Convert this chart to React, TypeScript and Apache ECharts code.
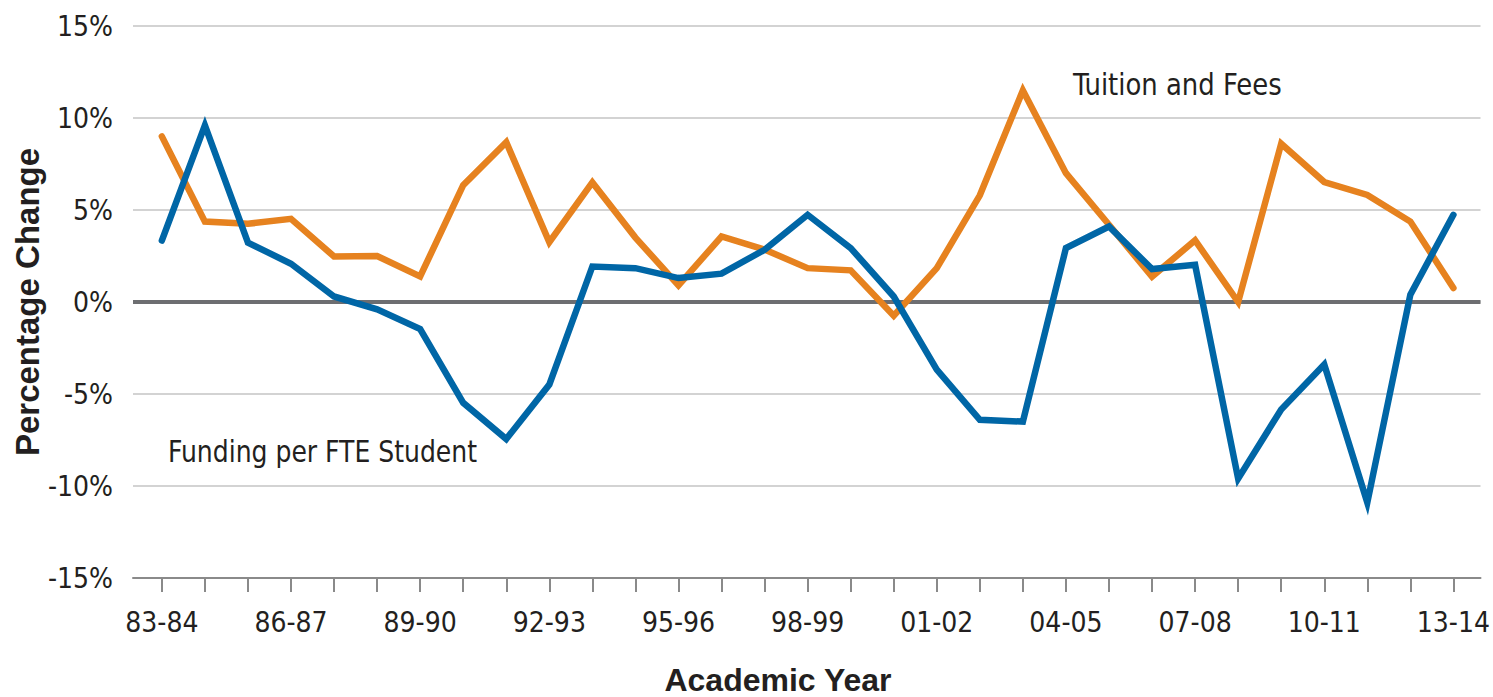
import React, { useEffect, useRef } from "react";
import * as echarts from "echarts";

const categories = [
  "83-84", "84-85", "85-86", "86-87", "87-88", "88-89", "89-90", "90-91", "91-92", "92-93",
  "93-94", "94-95", "95-96", "96-97", "97-98", "98-99", "99-00", "00-01", "01-02", "02-03",
  "03-04", "04-05", "05-06", "06-07", "07-08", "08-09", "09-10", "10-11", "11-12", "12-13", "13-14",
];

const tuitionAndFees = [
  9.0, 4.37, 4.25, 4.52, 2.47, 2.5, 1.39, 6.35, 8.68, 3.25,
  6.5, 3.5, 0.9, 3.56, 2.85, 1.84, 1.72, -0.75, 1.84, 5.8,
  11.5, 7.0, 4.2, 1.38, 3.35, 0.0, 8.6, 6.52, 5.82, 4.37, 0.76,
];

const fundingPerFTE = [
  3.34, 9.6, 3.23, 2.08, 0.3, -0.4, -1.47, -5.48, -7.45, -4.49,
  1.93, 1.84, 1.3, 1.54, 2.84, 4.74, 2.93, 0.3, -3.67, -6.4,
  -6.5, 2.93, 4.1, 1.79, 2.02, -9.6, -5.84, -3.4, -10.9, 0.4, 4.74,
];

const yTicks = [-15, -10, -5, 0, 5, 10, 15];
const labelEvery = 3;

const FONT = "'DejaVu Sans Condensed', 'Liberation Sans Narrow', sans-serif";
const BOLD_FONT = "'Liberation Sans', Arial, sans-serif";
const TEXT = "#231f20";
const ORANGE = "#e6821f";
const BLUE = "#0066a6";

export default function App() {
  const ref = useRef<HTMLDivElement>(null);

  useEffect(() => {
    if (!ref.current) return;
    const chart = echarts.init(ref.current, undefined, { renderer: "svg" });
    const idx = categories.map((_, i) => i);
    const labelIdx = idx.filter((i) => i % labelEvery === 0);

    chart.setOption({
      animation: false,
      backgroundColor: "#ffffff",
      grid: { left: 133, right: 12, top: 26, bottom: 119, containLabel: false },
      xAxis: {
        type: "value",
        min: -0.67,
        max: 30.63,
        axisLine: { show: true, onZero: false, lineStyle: { color: "#8a8a8a", width: 2 } },
        axisTick: {
          show: true,
          customValues: idx,
          length: 14,
          lineStyle: { color: "#8a8a8a", width: 2 },
        },
        axisLabel: {
          customValues: labelIdx,
          formatter: (v: number) => categories[Math.round(v)] ?? "",
          fontFamily: FONT,
          fontSize: 28,
          color: TEXT,
          margin: 30,
        },
        splitLine: { show: false },
      },
      yAxis: {
        type: "value",
        min: yTicks[0],
        max: yTicks[yTicks.length - 1],
        interval: 5,
        axisLine: { show: false },
        axisTick: { show: false },
        axisLabel: {
          formatter: "{value}%",
          fontFamily: FONT,
          fontSize: 28,
          color: TEXT,
          margin: 20,
        },
        splitLine: { show: true, lineStyle: { color: "#c4c4c4", width: 1.5 } },
      },
      series: [
        {
          name: "Tuition and Fees",
          type: "line",
          data: tuitionAndFees.map((v, i) => [i, v]),
          symbol: "none",
          lineStyle: { color: ORANGE, width: 6.5, cap: "round", join: "miter" },
          z: 3,
          markLine: {
            silent: true,
            symbol: "none",
            label: { show: false },
            lineStyle: { color: "#6d6e71", width: 4, type: "solid" },
            data: [{ yAxis: 0 }],
            z: 1,
          },
        },
        {
          name: "Funding per FTE Student",
          type: "line",
          data: fundingPerFTE.map((v, i) => [i, v]),
          symbol: "none",
          lineStyle: { color: BLUE, width: 6.5, cap: "round", join: "miter" },
          z: 4,
        },
      ],
      graphic: [
        {
          type: "text",
          x: 1073,
          y: 84,
          scaleX: 0.93,
          style: {
            text: "Tuition and Fees",
            font: `31px ${FONT}`,
            fill: TEXT,
            textAlign: "left",
            textVerticalAlign: "middle",
          },
        },
        {
          type: "text",
          x: 168,
          y: 451,
          scaleX: 0.9,
          style: {
            text: "Funding per FTE Student",
            font: `31px ${FONT}`,
            fill: TEXT,
            textAlign: "left",
            textVerticalAlign: "middle",
          },
        },
        {
          type: "text",
          x: 27,
          y: 302,
          rotation: Math.PI / 2,
          style: {
            text: "Percentage Change",
            font: `bold 33px ${BOLD_FONT}`,
            fill: TEXT,
            textAlign: "center",
            textVerticalAlign: "middle",
          },
        },
        {
          type: "text",
          x: 778,
          y: 680,
          style: {
            text: "Academic Year",
            font: `bold 32px ${BOLD_FONT}`,
            fill: TEXT,
            textAlign: "center",
            textVerticalAlign: "middle",
          },
        },
      ],
    });

    return () => chart.dispose();
  }, []);

  return (
    <div
      ref={ref}
      style={{ position: "fixed", left: 0, top: 0, width: 1493, height: 697, background: "#fff" }}
    />
  );
}
